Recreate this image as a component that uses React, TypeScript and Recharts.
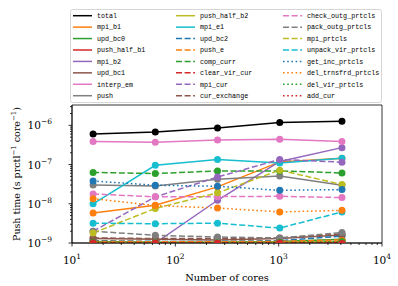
import React from 'react';
import { LineChart, Line, XAxis, YAxis, ReferenceArea } from 'recharts';

const cores = [16, 64, 256, 1024, 4096];

const total = [6.0e-7, 6.8e-7, 8.5e-7, 1.18e-6, 1.27e-6];
const mpi_b1 = [5.8e-9, 9.2e-9, 2.7e-8, 1.17e-7, 1.45e-7];
const upd_bc0 = [1.1e-9, 1.05e-9, 1.05e-9, 1.1e-9, 1.25e-9];
const push_half_b1 = [1.05e-9, 1.02e-9, 1.02e-9, 1.05e-9, 1.1e-9];
const mpi_b2 = [9.0e-10, 1.0e-9, 1.23e-8, 1.2e-7, 2.7e-7];
const upd_bc1 = [1.3e-9, 1.25e-9, 1.2e-9, 1.3e-9, 1.6e-9];
const interp_em = [3.9e-7, 3.7e-7, 4.2e-7, 4.4e-7, 3.9e-7];
const push = [3.0e-8, 2.85e-8, 4.2e-8, 5.1e-8, 2.97e-8];
const push_half_b2 = [1.05e-9, 1.03e-9, 1.03e-9, 1.05e-9, 1.1e-9];
const mpi_e1 = [1.0e-8, 9.6e-8, 1.35e-7, 1.1e-7, 1.45e-7];
const upd_bc2 = [1.15e-9, 1.1e-9, 1.1e-9, 1.15e-9, 1.5e-9];
const push_e = [1.1e-9, 1.08e-9, 1.08e-9, 1.1e-9, 1.2e-9];
const comp_curr = [6.3e-8, 5.9e-8, 6.9e-8, 6.9e-8, 6.1e-8];
const clear_vir_cur = [1.0e-9, 1.0e-9, 1.0e-9, 1.0e-9, 1.05e-9];
const mpi_cur = [2.0e-9, 1.5e-8, 4.8e-8, 1.35e-7, 1.15e-7];
const cur_exchange = [1.35e-9, 1.3e-9, 1.3e-9, 1.35e-9, 1.7e-9];
const check_outg_prtcls = [1.78e-8, 1.5e-8, 1.52e-8, 1.55e-8, 1.44e-8];
const pack_outg_prtcls = [2.0e-9, 1.57e-9, 1.42e-9, 1.34e-9, 1.85e-9];
const mpi_prtcls = [1.8e-9, 7.6e-9, 1.9e-8, 7.2e-8, 3.1e-8];
const unpack_vir_prtcls = [3.2e-9, 3.1e-9, 3.2e-9, 2.4e-9, 6.2e-9];
const get_inc_prtcls = [3.8e-8, 2.97e-8, 2.8e-8, 2.2e-8, 2.3e-8];
const del_trnsfrd_prtcls = [1.35e-8, 9.0e-9, 7.8e-9, 6.2e-9, 6.8e-9];
const del_vir_prtcls = [1.05e-9, 1.02e-9, 1.02e-9, 1.04e-9, 1.08e-9];
const add_cur = [1.0e-9, 0.98e-9, 0.98e-9, 1.0e-9, 0.97e-9];

const xMajor = [10, 100, 1000, 10000];
const yMajor = [1e-9, 1e-8, 1e-7, 1e-6];
const mult = [2, 3, 4, 5, 6, 7, 8, 9];

const BLUE = '#1f77b4', ORANGE = '#ff7f0e', GREEN = '#2ca02c', RED = '#d62728', PURPLE = '#9467bd',
  BROWN = '#8c564b', PINK = '#e377c2', GRAY = '#7f7f7f', OLIVE = '#bcbd22', CYAN = '#17becf';
const SOLID = undefined, DASH = '6 2.6', DOT = '1.6 2.6';

const SERIES: { key: string; values: number[]; color: string; dash?: string }[] = [
  { key: 'total', values: total, color: '#000000', dash: SOLID },
  { key: 'mpi_b1', values: mpi_b1, color: ORANGE, dash: SOLID },
  { key: 'upd_bc0', values: upd_bc0, color: GREEN, dash: SOLID },
  { key: 'push_half_b1', values: push_half_b1, color: RED, dash: SOLID },
  { key: 'mpi_b2', values: mpi_b2, color: PURPLE, dash: SOLID },
  { key: 'upd_bc1', values: upd_bc1, color: BROWN, dash: SOLID },
  { key: 'interp_em', values: interp_em, color: PINK, dash: SOLID },
  { key: 'push', values: push, color: GRAY, dash: SOLID },
  { key: 'push_half_b2', values: push_half_b2, color: OLIVE, dash: SOLID },
  { key: 'mpi_e1', values: mpi_e1, color: CYAN, dash: SOLID },
  { key: 'upd_bc2', values: upd_bc2, color: BLUE, dash: DASH },
  { key: 'push_e', values: push_e, color: ORANGE, dash: DASH },
  { key: 'comp_curr', values: comp_curr, color: GREEN, dash: DASH },
  { key: 'clear_vir_cur', values: clear_vir_cur, color: RED, dash: DASH },
  { key: 'mpi_cur', values: mpi_cur, color: PURPLE, dash: DASH },
  { key: 'cur_exchange', values: cur_exchange, color: BROWN, dash: DASH },
  { key: 'check_outg_prtcls', values: check_outg_prtcls, color: PINK, dash: DASH },
  { key: 'pack_outg_prtcls', values: pack_outg_prtcls, color: GRAY, dash: DASH },
  { key: 'mpi_prtcls', values: mpi_prtcls, color: OLIVE, dash: DASH },
  { key: 'unpack_vir_prtcls', values: unpack_vir_prtcls, color: CYAN, dash: DASH },
  { key: 'get_inc_prtcls', values: get_inc_prtcls, color: BLUE, dash: DOT },
  { key: 'del_trnsfrd_prtcls', values: del_trnsfrd_prtcls, color: ORANGE, dash: DOT },
  { key: 'del_vir_prtcls', values: del_vir_prtcls, color: GREEN, dash: DOT },
  { key: 'add_cur', values: add_cur, color: RED, dash: DOT },
];

const data = cores.map((c, i) => {
  const row: Record<string, number> = { cores: c };
  SERIES.forEach((s) => { row[s.key] = s.values[i]; });
  return row;
});

const xTicks: number[] = [];
xMajor.forEach((d, i) => {
  xTicks.push(d);
  if (i < xMajor.length - 1) mult.forEach((m) => xTicks.push(m * d));
});
const Y_MAX = 3.3e-6;
const yTicks: number[] = [];
yMajor.forEach((d) => {
  yTicks.push(d);
  mult.forEach((m) => { if (m * d <= Y_MAX) yTicks.push(m * d); });
});

const SERIF = '"DejaVu Serif", serif';
const MONO = '"Liberation Mono", "DejaVu Sans Mono", monospace';

const isMajor = (v: number) => {
  const l = Math.log10(v);
  return Math.abs(l - Math.round(l)) < 1e-6;
};

const XTick = (props: any) => {
  const { x, y, payload } = props;
  const v = payload.value;
  const major = isMajor(v);
  const exp = Math.round(Math.log10(v));
  return (
    <g>
      <line x1={x} x2={x} y1={y} y2={y + (major ? 3.5 : 2)} stroke="#000" strokeWidth={0.8} />
      {major && (
        <text x={x} y={y + 20.5} textAnchor="middle" fontFamily={SERIF} fontSize={10.5} fill="#000">
          10<tspan dy={-5} fontSize={7.5}>{exp}</tspan>
        </text>
      )}
    </g>
  );
};

const YTick = (props: any) => {
  const { x, y, payload } = props;
  const v = payload.value;
  const major = isMajor(v);
  const exp = Math.round(Math.log10(v));
  return (
    <g>
      <line x1={x} x2={x - (major ? 3.5 : 2)} y1={y} y2={y} stroke="#000" strokeWidth={0.8} />
      {major && (
        <text x={x - 20} y={y + 4} textAnchor="end" fontFamily={SERIF} fontSize={10.5} fill="#000">
          10<tspan dy={-5} fontSize={7.5}>{'\u2212' + Math.abs(exp)}</tspan>
        </text>
      )}
    </g>
  );
};

const YLabel = () => (
  <text
    transform="translate(20,174) rotate(-90)"
    textAnchor="middle"
    fontFamily={SERIF}
    fontSize={9.5}
    fill="#000"
  >
    Push time (s prctl<tspan dy={-4} fontSize={7}>{'\u22121'}</tspan>
    <tspan dy={4}> core</tspan>
    <tspan dy={-4} fontSize={7}>{'\u22121'}</tspan>
    <tspan dy={4}>)</tspan>
  </text>
);

const XLabel = () => (
  <text x={227} y={281} textAnchor="middle" fontFamily={SERIF} fontSize={9.8} fill="#000">
    Number of cores
  </text>
);

const Legend = () => {
  const cols = [73, 176, 283];
  const rowY = (r: number) => 15.7 + r * 11.43;
  return (
    <svg width={398} height={110} style={{ position: 'absolute', left: 0, top: 0, pointerEvents: 'none' }}>
      <rect x={70.5} y={9.5} width={311} height={93} rx={2} ry={2} fill="#ffffff" fillOpacity={0.85} stroke="#cccccc" strokeWidth={0.8} />
      {SERIES.map((s, i) => {
        const c = Math.floor(i / 8);
        const r = i % 8;
        const x0 = cols[c];
        const y = rowY(r);
        return (
          <g key={s.key}>
            <line x1={x0} x2={x0 + 19} y1={y} y2={y} stroke={s.color} strokeWidth={1.5} strokeDasharray={s.dash} />
            <text x={x0 + 24} y={y + 2.3} fontFamily={MONO} fontSize={6.7} fill="#000">{s.key}</text>
          </g>
        );
      })}
    </svg>
  );
};

export default function App() {
  return (
    <div style={{ position: 'absolute', left: 0, top: 0, width: 398, height: 286, background: '#fff' }}>
      <LineChart width={398} height={286} data={data} margin={{ top: 105, right: 16, bottom: 13, left: 22 }}>
        <XAxis
          dataKey="cores"
          type="number"
          scale="log"
          domain={[10, 10000]}
          allowDataOverflow
          ticks={xTicks}
          interval={0}
          tick={<XTick />}
          tickLine={false}
          tickSize={0}
          tickMargin={0}
          axisLine={{ stroke: '#000', strokeWidth: 0.8 }}
          height={30}
          label={<XLabel />}
        />
        <YAxis
          type="number"
          scale="log"
          domain={[1e-9, Y_MAX]}
          allowDataOverflow
          ticks={yTicks}
          interval={0}
          tick={<YTick />}
          tickLine={false}
          tickSize={0}
          tickMargin={0}
          axisLine={{ stroke: '#000', strokeWidth: 0.8 }}
          width={50}
          label={<YLabel />}
        />
        {SERIES.map((s) => (
          <Line
            key={s.key}
            dataKey={s.key}
            stroke={s.color}
            strokeWidth={1.5}
            strokeDasharray={s.dash}
            dot={{ r: 3.5, fill: s.color, stroke: s.color, strokeWidth: 0 }}
            activeDot={false}
            isAnimationActive={false}
          />
        ))}
        <ReferenceArea x1={10} x2={10000} y1={1e-9} y2={Y_MAX} fill="none" stroke="#000" strokeWidth={0.8} ifOverflow="visible" />
      </LineChart>
      <Legend />
    </div>
  );
}
